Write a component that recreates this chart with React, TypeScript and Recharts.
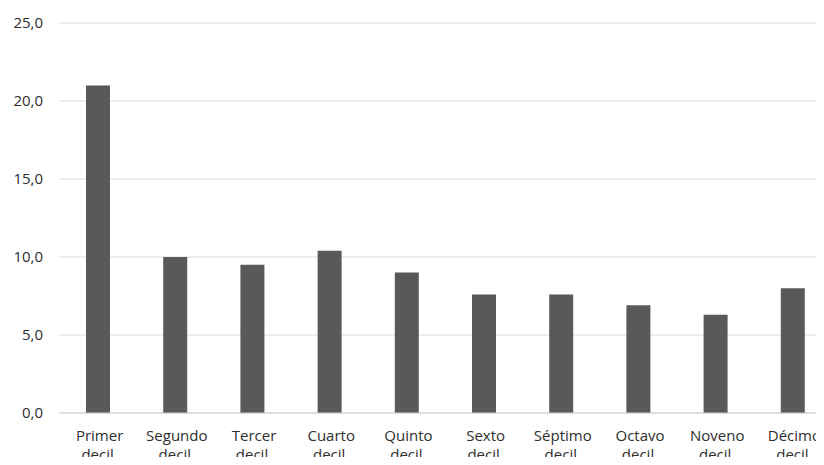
import { BarChart, Bar, XAxis, YAxis, CartesianGrid } from 'recharts'

// Distribución por deciles
const deciles = ['Primer decil', 'Segundo decil', 'Tercer decil', 'Cuarto decil', 'Quinto decil', 'Sexto decil', 'Séptimo decil', 'Octavo decil', 'Noveno decil', 'Décimo decil']
const valores = [21.0, 10.0, 9.5, 10.4, 9.0, 7.6, 7.6, 6.9, 6.3, 8.0]
const yTicks = [0, 5, 10, 15, 20, 25]

const data = deciles.map((d, i) => ({ decil: d, valor: valores[i] }))

const font = '"Open Sans", "Liberation Sans", sans-serif'
const textColor = '#2e2e2e'

// Etiqueta del eje X en dos líneas ("Primer" / "decil")
function DecilTick({ x, y, payload }: any) {
  const parts = String(payload.value).split(' ')
  return (
    <text x={x} y={y} textAnchor="middle" fill={textColor} fontFamily={font} fontSize={15}>
      <tspan x={x + 2} dy={20}>{parts[0]}</tspan>
      <tspan x={x} dy={19}>{parts.slice(1).join(' ')}</tspan>
    </text>
  )
}

export default function App() {
  return (
    <div style={{ width: 824, height: 465, overflow: 'hidden', margin: -8, background: '#fff' }}>
      <BarChart width={840} height={465} data={data} margin={{ top: 23, right: 9, left: 0, bottom: 0 }}>
        <CartesianGrid stroke="#d9d9d9" vertical={false} />
        <XAxis
          dataKey="decil"
          interval={0}
          height={52}
          tickLine={false}
          axisLine={{ stroke: '#d0d0d0' }}
          tick={<DecilTick />}
        />
        <YAxis
          width={59}
          domain={[0, 25]}
          ticks={yTicks}
          tickLine={false}
          axisLine={false}
          tickMargin={10}
          tick={{ fill: textColor, fontSize: 15, fontFamily: font }}
          tickFormatter={(v: number) => v.toFixed(1).replace('.', ',')}
        />
        <Bar dataKey="valor" fill="#595959" barSize={24} isAnimationActive={false} />
      </BarChart>
    </div>
  )
}
